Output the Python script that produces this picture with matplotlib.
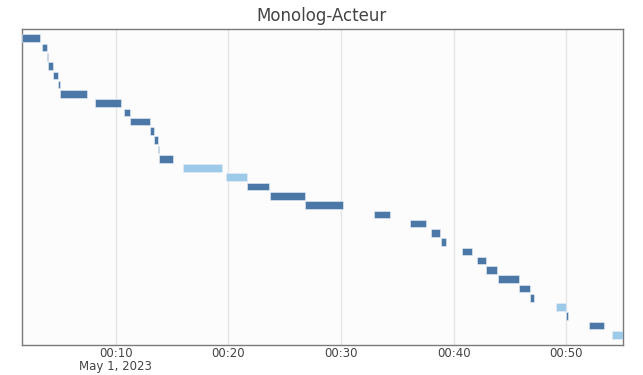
import matplotlib
matplotlib.use("Agg")
import matplotlib.pyplot as plt
import matplotlib.dates as mdates
import pandas as pd

# start / end of each segment (mm:ss after midnight, May 1 2023)
starts = ["01:40", "03:25", "03:52", "03:56", "04:24", "04:51", "05:01", "08:08",
          "10:41", "11:15", "13:03", "13:25", "13:42", "13:51", "15:57", "19:45",
          "21:41", "23:43", "26:46", "32:54", "36:08", "37:57", "38:50", "40:42",
          "42:05", "42:53", "43:57", "45:49", "46:45", "49:05", "49:58", "52:01",
          "54:05"]
ends = ["03:15", "03:52", "03:57", "04:24", "04:53", "05:01", "07:24", "10:30",
        "11:13", "13:03", "13:25", "13:46", "13:51", "15:04", "19:24", "21:39",
        "23:34", "26:46", "30:09", "34:21", "37:30", "38:46", "39:17", "41:35",
        "42:53", "43:50", "45:49", "46:46", "47:09", "50:00", "50:11", "53:23",
        "55:02"]
# 0 = dark, 1 = light
kinds = [0, 0, 0, 0, 0, 0, 0, 0, 0, 0, 0, 0, 0, 0, 1, 1, 0, 0, 0, 0, 0, 0, 0, 0,
         0, 0, 0, 0, 0, 1, 0, 0, 1]
colors = ["#4c78a8", "#9ecae9"]

t0 = pd.Timestamp("2023-05-01 00:00:00")
def to_ts(s):
    m, sec = s.split(":")
    return t0 + pd.Timedelta(minutes=int(m), seconds=int(sec))

x0 = mdates.date2num([to_ts(s) for s in starts])
x1 = mdates.date2num([to_ts(s) for s in ends])
rows = list(range(len(starts)))

fig = plt.figure(figsize=(6.43, 3.75), dpi=100)
ax = fig.add_axes([0.0342, 0.08, 0.9347, 0.8427])
ax.set_facecolor("#fcfcfc")

ax.barh(rows, x1 - x0, left=x0, height=0.82,
        color=[colors[k] for k in kinds], edgecolor="#e8eef5", linewidth=0.4, zorder=3)

ax.set_xlim(x0.min(), x1.max())
ax.set_ylim(len(rows) + 0.1, -1.0)
ax.set_yticks([])

ax.xaxis.set_major_locator(mdates.MinuteLocator(byminute=[10, 20, 30, 40, 50]))

def fmt(x, pos):
    d = mdates.num2date(x)
    lab = d.strftime("%H:%M")
    if pos == 0:
        lab += "\nMay 1, 2023"
    return lab

ax.xaxis.set_major_formatter(plt.FuncFormatter(fmt))
ax.tick_params(axis="x", length=0, pad=1.5, labelsize=8.5, labelcolor="#444444")
for lab in ax.get_xticklabels():
    lab.set_linespacing(1.0)
ax.grid(axis="x", color="#e6e6e6", linewidth=1, zorder=0)
for sp in ax.spines.values():
    sp.set_color("#7a7a7a")
    sp.set_linewidth(1)

fig.text(0.5, 0.958, "Monolog-Acteur", ha="center", va="center",
         fontsize=12, color="#444444")

fig.savefig("out.png", dpi=100)
